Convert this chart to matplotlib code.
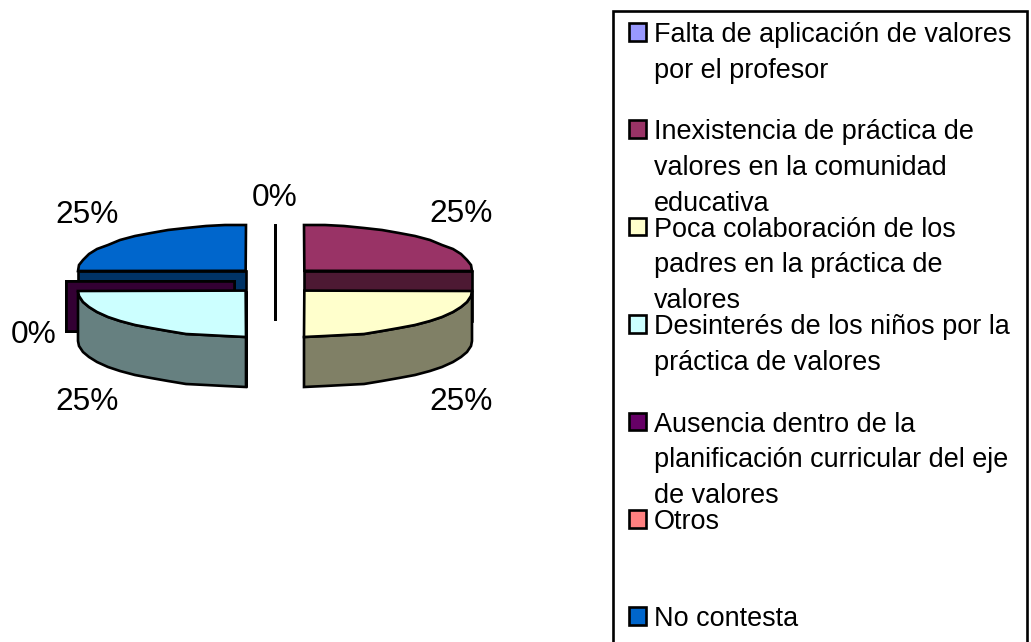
import matplotlib
matplotlib.use("Agg")
import matplotlib.pyplot as plt
from matplotlib.patches import Polygon, Rectangle
import numpy as np

categories = [
    ["Falta de aplicación de valores", "por el profesor"],
    ["Inexistencia de práctica de", "valores en la comunidad", "educativa"],
    ["Poca colaboración de los", "padres en la práctica de", "valores"],
    ["Desinterés de los niños por la", "práctica de valores"],
    ["Ausencia dentro de la", "planificación curricular del eje", "de valores"],
    ["Otros"],
    ["No contesta"],
]
values = [0, 25, 25, 25, 0, 0, 25]
colors = ["#9999FF", "#993366", "#FFFFCC", "#CCFFFF", "#660066", "#FF8080", "#0066CC"]
sides = ["#4D4D80", "#4D1933", "#808066", "#668080", "#330033", "#804040", "#003366"]

plt.rcParams["font.family"] = ["Liberation Sans", "DejaVu Sans"]

CX, CY = 275, 280.7
R, RY, H = 167.5, 46, 50
LW = 1.9


def ell(cx, cy, a):
    return np.column_stack([cx + R * np.sin(a), cy - RY * np.cos(a)])


def draw_slice(ax, a0, a1, top, side, z):
    mid = (a0 + a1) / 2
    cx = CX + 41.5 * np.sin(mid)
    cy = CY + np.clip(-14 * np.cos(mid), -10.3, 10.3)
    # radial walls seen from the front
    for a in (a0, a1):
        if np.cos(mid) >= np.cos(a) - 1e-9:
            p = ell(cx, cy, a)[0]
            wall = [(cx, cy), p, p + [0, H], (cx, cy + H)]
            ax.add_patch(Polygon(wall, fc=side, ec="black", lw=LW, zorder=z))
    # outer wall, front half only
    f0, f1 = max(a0, np.pi / 2), min(a1, 3 * np.pi / 2)
    if f1 > f0:
        arc = np.round(ell(cx, cy, np.linspace(f0, f1, 14)))
        wall = np.vstack([arc, arc[::-1] + [0, H]])
        ax.add_patch(Polygon(wall, fc=side, ec="black", lw=LW, zorder=z))
    # top face
    if a1 > a0:
        arc = np.round(ell(cx, cy, np.linspace(a0, a1, 14)))
        ax.add_patch(Polygon(np.vstack([[cx, cy], arc]), fc=top, ec="black", lw=LW, zorder=z + 0.5))


def main():
    fig = plt.figure(figsize=(10.31, 6.42), dpi=100)
    ax = fig.add_axes([0, 0, 1, 1])
    ax.set_xlim(0, 1031)
    ax.set_ylim(642, 0)
    ax.axis("off")

    total = sum(values)
    edges = np.concatenate([[0], np.cumsum(values)]) / total * 2 * np.pi
    # back slices first, then the front ones
    order = [6, 1, 0, 5, 4, 3, 2]
    for z, i in enumerate(order):
        draw_slice(ax, edges[i], edges[i + 1], colors[i], sides[i], 2 + z)

    # percent labels, Otros shares its spot with Ausencia so it is left out
    label_pos = {0: (275, 198), 1: (461, 214), 2: (461, 402), 3: (87, 402), 4: (34, 335), 6: (87, 215)}
    for i, (x, y) in label_pos.items():
        ax.text(x, y, f"{values[i]}%", fontsize=22.8, ha="center", va="center", color="black", zorder=20)

    # legend box, its bottom edge runs off the picture
    ax.add_patch(Rectangle((613, 11), 414, 650, fc="white", ec="black", lw=LW, zorder=1))
    for i, lines in enumerate(categories):
        base = 42 + 97.4 * i
        ax.add_patch(Rectangle((629, base - 19), 16.5, 17.5, fc=colors[i], ec="black", lw=LW, zorder=3))
        for j, line in enumerate(lines):
            ax.text(654, base + 35.6 * j, line, fontsize=19.45, ha="left", va="baseline", color="black", zorder=4)

    fig.savefig("out.png", dpi=100)


if __name__ == "__main__":
    main()
